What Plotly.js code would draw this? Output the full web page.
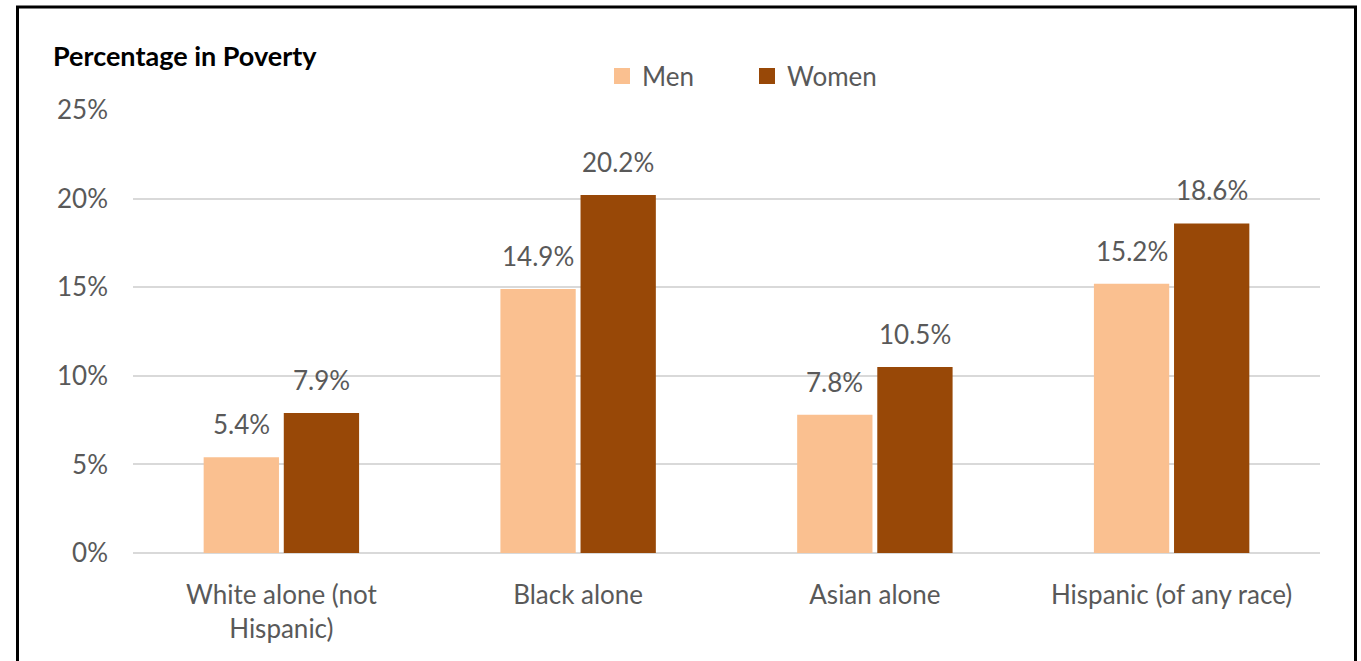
<!DOCTYPE html>
<html>
<head>
<meta charset="utf-8">
<script src="https://cdn.plot.ly/plotly-3.0.1.min.js"></script>
<style>html,body{margin:0;padding:0;background:#fff;}#chart{width:1361px;height:661px;}</style>
</head>
<body>
<div id="chart"></div>
<script>
const categories = ["White alone (not<br>Hispanic)", "Black alone", "Asian alone", "Hispanic (of any race)"];
const menValues = [5.4, 14.9, 7.8, 15.2];
const womenValues = [7.9, 20.2, 10.5, 18.6];
const tickValues = [0, 5, 10, 15, 20, 25];
const tickLabels = ["0%", "5%", "10%", "15%", "20%", "25%"];
const seriesNames = ["Men", "Women"];
const seriesColors = ["#FAC090", "#984807"];

const FONT = "Lato, 'Open Sans', sans-serif";
const GRAY = "#595959";

const traces = [
  {type: "bar", name: seriesNames[0], x: categories, y: menValues, marker: {color: seriesColors[0]}, hoverinfo: "none", showlegend: false},
  {type: "bar", name: seriesNames[1], x: categories, y: womenValues, marker: {color: seriesColors[1]}, hoverinfo: "none", showlegend: false},
  {type: "scatter", mode: "markers", name: seriesNames[0], x: [null], y: [null], marker: {symbol: "square", size: 18, color: seriesColors[0]}, showlegend: true},
  {type: "scatter", mode: "markers", name: seriesNames[1], x: [null], y: [null], marker: {symbol: "square", size: 18, color: seriesColors[1]}, showlegend: true}
];

const annotations = [];
[[menValues, -40], [womenValues, 40]].forEach(([vals, dx]) => {
  vals.forEach((v, i) => {
    annotations.push({x: categories[i], y: v, xref: "x", yref: "y", text: v.toFixed(1) + "%",
      showarrow: false, xshift: dx, yshift: 33, font: {family: FONT, size: 26, color: GRAY}});
  });
});
annotations.push({xref: "paper", yref: "paper", x: (51 - 133) / 1187, y: (553 - 55) / 443,
  xanchor: "left", yanchor: "middle", text: "<b>Percentage in Poverty</b>", showarrow: false,
  font: {family: FONT, size: 27, color: "#000"}});

const layout = {
  width: 1361, height: 661,
  margin: {l: 133, r: 41, t: 110, b: 108},
  paper_bgcolor: "#fff", plot_bgcolor: "#fff",
  barmode: "group", bargap: 0.46, bargroupgap: 0.06,
  showlegend: true,
  legend: {orientation: "h", x: (602 - 133) / 1187, y: (553 - 76) / 443, xanchor: "left", yanchor: "middle",
    font: {family: FONT, size: 26, color: GRAY}, entrywidth: 100, itemclick: false, itemsizing: "trace"},
  xaxis: {type: "category", tickfont: {family: FONT, size: 26, color: GRAY}, ticks: "", showgrid: false,
    showline: false, ticklabelstandoff: 24},
  yaxis: {range: [0, 25], tickvals: tickValues, ticktext: tickLabels, tickfont: {family: FONT, size: 26, color: GRAY},
    showgrid: true, gridcolor: "#d9d9d9", gridwidth: 2, zeroline: true, zerolinecolor: "#d9d9d9", zerolinewidth: 2,
    showline: false, ticks: "", ticklabelstandoff: 24, fixedrange: true},
  annotations: annotations,
  shapes: [{type: "rect", xref: "paper", yref: "paper",
    x0: (17.5 - 133) / 1187, x1: (1355.5 - 133) / 1187, y0: (553 - 680) / 443, y1: (553 - 7) / 443,
    line: {color: "#000", width: 3}, fillcolor: "rgba(0,0,0,0)", layer: "above"}]
};

Plotly.newPlot("chart", traces, layout, {displayModeBar: false, staticPlot: true});
</script>
</body>
</html>
